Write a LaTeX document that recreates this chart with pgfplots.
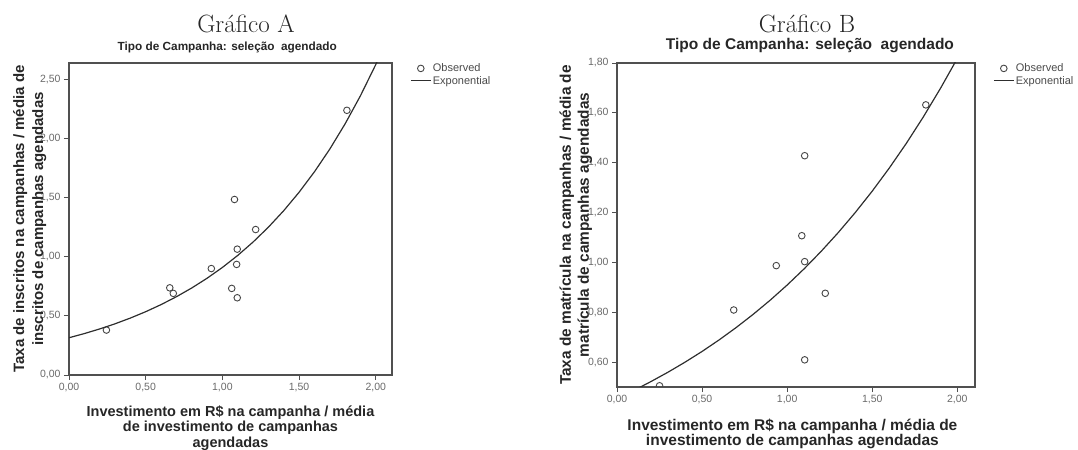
\documentclass[border=0pt]{standalone}
\usepackage{pgfplots}
\pgfplotsset{compat=1.18}
\usepackage{fontspec}
\newfontfamily\sans{Liberation Sans}
\definecolor{boxc}{HTML}{505050}
\definecolor{tickc}{HTML}{6A6A6A}
\definecolor{markc}{HTML}{454545}
\definecolor{curvec}{HTML}{2E2E2E}
\definecolor{legc}{HTML}{4A4A4A}
\definecolor{labc}{HTML}{262626}
\pgfplotsset{
  spss/.style={
    scale only axis,
    axis line style={draw=boxc, line width=1.3bp},
    tick align=outside, tick pos=left,
    major tick length=5bp,
    every tick/.style={draw=boxc, line width=0.8bp},
    tick label style={font=\sans\fontsize{10.5bp}{12bp}\selectfont, text=tickc},
    /pgf/number format/fixed,
    /pgf/number format/fixed zerofill,
    /pgf/number format/precision=2,
    /pgf/number format/use comma,
    /pgf/number format/assume math mode=true,
    clip marker paths=true,
    legend style={at={(1,1)}, anchor=north west, xshift=18bp, yshift=0bp,
      draw=none, fill=none, inner sep=0pt, row sep=2bp,
      font=\sans\fontsize{11bp}{12bp}\selectfont, text=legc,
      nodes={inner xsep=1.5bp, inner ysep=0.5bp}},
    legend cell align=left,
    legend image code/.code={\draw[mark repeat=2,mark phase=2,##1] plot coordinates {(0bp,0bp) (10bp,0bp) (20bp,0bp)};},
    title style={font=\sans\bfseries, text=labc},
    xlabel style={align=center, text=labc},
    ylabel style={align=center, text=labc},
  },
  obs/.style={only marks, mark=o, mark size=3.3bp, mark options={draw=markc, line width=0.9bp}},
  fit/.style={no marks, draw=curvec, line width=1.2bp},
}
\begin{document}
\begin{tikzpicture}
\path[use as bounding box] (0bp,0bp) rectangle (1078bp,450bp);
\node[anchor=base, font=\fontsize{25bp}{25bp}\selectfont, text=labc] at (246bp,417bp) {Gráfico A};
\node[anchor=base, font=\fontsize{25bp}{25bp}\selectfont, text=labc] at (807bp,417bp) {Gráfico B};

\begin{axis}[spss, at={(69bp,75bp)}, anchor=south west, width=323bp, height=312bp,
  xmin=0, xmax=2.106, ymin=0, ymax=2.638,
  xtick={0,0.5,1,1.5,2}, ytick={0,0.5,1,1.5,2,2.5},
  title={Tipo de Campanha: seleção\ \ agendado},
  title style={at={(axis description cs:0.49,1.029)}, anchor=center, font=\sans\bfseries\fontsize{11.8bp}{12bp}\selectfont},
  xlabel={Investimento em R\$ na campanha / média\\de investimento de campanhas\\agendadas},
  xlabel style={at={(axis description cs:0.5,-0.17)}, anchor=center, font=\sans\bfseries\fontsize{14.5bp}{15.5bp}\selectfont},
  ylabel={Taxa de inscritos na campanhas / média de\\inscritos de campanhas agendadas},
  ylabel style={at={(axis description cs:-0.122,0.5)}, anchor=center, font=\sans\bfseries\fontsize{15bp}{19bp}\selectfont},
]
\addplot[obs] coordinates {
  (0.244,0.380) (0.657,0.737) (0.680,0.690) (0.928,0.900) (1.079,1.484)
  (1.097,1.064) (1.093,0.935) (1.061,0.732) (1.097,0.653) (1.217,1.230)
  (1.812,2.238)
};
\addlegendentry{Observed}
\addplot[fit] coordinates {
  (0.0,0.3150) (0.1,0.3502) (0.2,0.3894) (0.3,0.4329) (0.4,0.4813)
  (0.5,0.5352) (0.6,0.5950) (0.7,0.6616) (0.8,0.7355) (0.9,0.8178)
  (1.0,0.9092) (1.1,1.0109) (1.2,1.1240) (1.3,1.2497) (1.4,1.3894)
  (1.5,1.5447) (1.6,1.7174) (1.7,1.9094) (1.8,2.1230) (1.9,2.3604)
  (2.0,2.6243) (2.01,2.6520)
};
\addlegendentry{Exponential}
\end{axis}

\begin{axis}[spss, at={(617bp,63bp)}, anchor=south west, width=358bp, height=324bp,
  xmin=0, xmax=2.104, ymin=0.5, ymax=1.8,
  xtick={0,0.5,1,1.5,2}, ytick={0.6,0.8,1.0,1.2,1.4,1.6,1.8},
  title={Tipo de Campanha: seleção\ \ agendado},
  title style={at={(axis description cs:0.539,1.034)}, anchor=center, font=\sans\bfseries\fontsize{15.5bp}{16bp}\selectfont},
  xlabel={Investimento em R\$ na campanha / média de\\investimento de campanhas agendadas},
  xlabel style={at={(axis description cs:0.49,-0.145)}, anchor=center, font=\sans\bfseries\fontsize{15.5bp}{15bp}\selectfont},
  ylabel={Taxa de matrícula na campanhas / média de\\matrícula de campanhas agendadas},
  ylabel style={at={(axis description cs:-0.115,0.5)}, anchor=center, font=\sans\bfseries\fontsize{15.4bp}{18bp}\selectfont},
]
\addplot[obs] coordinates {
  (0.250,0.505) (0.686,0.809) (0.936,0.987) (1.086,1.107) (1.103,1.003)
  (1.103,1.428) (1.103,0.609) (1.224,0.876) (1.815,1.632)
};
\addlegendentry{Observed}
\addplot[fit] coordinates {
  (0.100,0.4870) (0.138,0.5000) (0.2,0.5220) (0.3,0.5595) (0.4,0.5997)
  (0.5,0.6427) (0.6,0.6889) (0.7,0.7384) (0.8,0.7914) (0.9,0.8482)
  (1.0,0.9091) (1.1,0.9744) (1.2,1.0444) (1.3,1.1194) (1.4,1.1998)
  (1.5,1.2859) (1.6,1.3783) (1.7,1.4772) (1.8,1.5833) (1.9,1.6970)
  (1.985,1.8000) (2.0,1.8190)
};
\addlegendentry{Exponential}
\end{axis}
\end{tikzpicture}
\end{document}
